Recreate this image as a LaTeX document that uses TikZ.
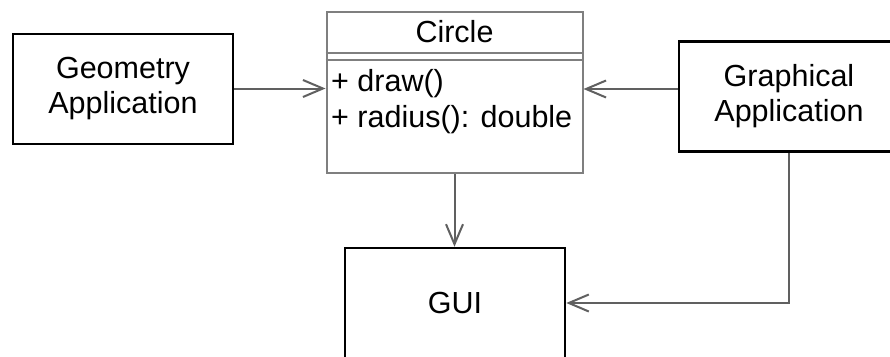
\documentclass[tikz,border=0pt]{standalone}
\usepackage{fontspec}
\setmainfont{Liberation Sans}
\usetikzlibrary{arrows.meta,calc}
\definecolor{lgray}{HTML}{7F7F7F}
\definecolor{cgray}{HTML}{606060}
\tikzset{
  box/.style={draw=black, line width=2.5pt, fill=white, minimum width=220pt, minimum height=110pt, inner sep=0pt, align=center, font=\fontsize{30.5}{35}\selectfont},
  classbox/.style={draw=lgray, line width=2pt, fill=white, minimum width=256pt, minimum height=161pt, inner sep=0pt},
  txt/.style={inner sep=0pt, font=\fontsize{30.5}{35}\selectfont},
  conn/.style={draw=cgray, line width=2pt, -{Straight Barb[length=20pt,width=17pt,line width=2pt]}}
}
\begin{document}
\begin{tikzpicture}[x=1pt,y=-1pt]
\useasboundingbox (0,0) rectangle (890,356);
\clip (0,0) rectangle (890,356);
\fill[white] (0,0) rectangle (890,356);
\node[box] (geo) at (123,89) {Geometry\\Application};
\node[box] (gra) at (789,96.5) {Graphical\\Application};
\node[box] (gui) at (455,303) {GUI};
\node[classbox] (cir) at (454.5,92.5) {};
\draw[lgray, line width=2pt] (cir.west |- 0,52.5) -- (cir.east |- 0,52.5);
\draw[lgray, line width=2pt] (cir.west |- 0,59.5) -- (cir.east |- 0,59.5);
\node[txt, anchor=base] (ctitle) at (454.5,42) {Circle};
\node[txt, anchor=base west] (m1) at (331,91) {+ draw()};
\node[txt, anchor=base west] (m2) at (331,127) {+ radius(): double};
\coordinate (gy) at (0,88.5);
\coordinate (hy) at (0,89);
\draw[conn] (geo.east |- gy) -- (cir.west |- gy);
\draw[conn] (gra.west |- hy) -- (cir.east |- hy);
\draw[conn] (cir.south) -- (cir.south |- gui.north);
\draw[conn] (gra.south) |- (gui.east);
\end{tikzpicture}
\end{document}
